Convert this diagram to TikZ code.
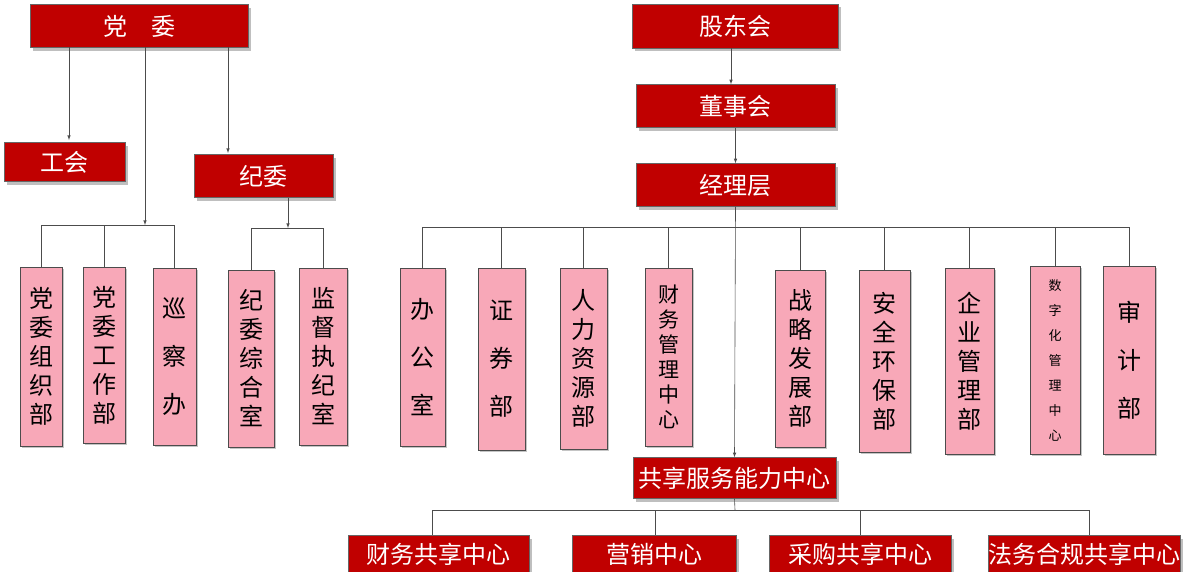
\documentclass[tikz,border=0pt]{standalone}
\usepackage{fontspec}
\setmainfont{Noto Sans CJK SC}
\usetikzlibrary{shadows}
\tikzset{
  redbox/.style={draw=black!60, fill={rgb,255:red,192;green,0;blue,0}, text=white,
    inner sep=0pt, font=\fontsize{24}{26}\selectfont,
    drop shadow={shadow xshift=3pt, shadow yshift=-3pt, fill=black!50}},
  pinkbox/.style={draw=black!70, fill={rgb,255:red,248;green,168;blue,184},
    inner sep=0pt, align=center,
    drop shadow={shadow xshift=2pt, shadow yshift=-2pt, fill=black!45}},
  vt/.style 2 args={font=\fontsize{#1}{#2}\selectfont},
  line/.style={draw=black!70, line width=0.6pt},
  arr/.style={line, -latex}
}
\begin{document}
\begin{tikzpicture}[x=1pt,y=-1pt]
  \useasboundingbox (0,0) rectangle (1186,571);
  %%% left: party side
  \node[redbox, minimum width=218pt, minimum height=43pt] (dangwei) at (139,26) {党\quad 委};
  \node[redbox, minimum width=121pt, minimum height=39pt] (gonghui) at (64.5,162) {工会};
  \node[redbox, minimum width=139pt, minimum height=43pt] (jiwei) at (263.5,176) {纪委};
  \node[pinkbox, vt={24}{29}, minimum width=42pt, minimum height=179pt] (zuzhi) at (41,356.5) {党\\委\\组\\织\\部};
  \node[pinkbox, vt={24}{29}, minimum width=42pt, minimum height=176pt] (gongzuo) at (104,355) {党\\委\\工\\作\\部};
  \node[pinkbox, vt={24}{48}, minimum width=43pt, minimum height=177pt] (xuncha) at (174.5,356.5) {巡\\察\\办};
  \node[pinkbox, vt={24}{29}, minimum width=46pt, minimum height=177pt] (zonghe) at (251,358.5) {纪\\委\\综\\合\\室};
  \node[pinkbox, vt={24}{29}, minimum width=48pt, minimum height=177pt] (jiandu) at (323,356.5) {监\\督\\执\\纪\\室};
  \coordinate (busA) at (145,225);
  \coordinate (busB) at (288,228);
  \draw[arr] (69,47) -- (69,140);
  \draw[arr] (228,47) -- (228,153);
  \draw[arr] (145,47) -- (busA);
  \draw[line] (zuzhi.north |- busA) -- (xuncha.north |- busA);
  \foreach \n in {zuzhi,gongzuo,xuncha}
    \draw[line] (\n.north |- busA) -- (\n.north);
  \draw[arr] (jiwei.south -| busB) -- (busB);
  \draw[line] (zonghe.north |- busB) -- (jiandu.north |- busB);
  \foreach \n in {zonghe,jiandu}
    \draw[line] (\n.north |- busB) -- (\n.north);
  %%% right: company side
  \node[redbox, minimum width=206pt, minimum height=44pt] (gudong) at (735,26) {股东会};
  \node[redbox, minimum width=199pt, minimum height=43pt] (dongshi) at (735.5,106) {董事会};
  \node[redbox, minimum width=199pt, minimum height=43pt] (jingli) at (735.5,185) {经理层};
  \draw[arr] (gudong.south -| 731,0) -- (dongshi.north -| 731,0);
  \draw[arr] (dongshi.south) -- (jingli.north);
  \node[pinkbox, vt={24}{48}, minimum width=45pt, minimum height=178pt] (bangong) at (422.5,357) {办\\公\\室};
  \node[pinkbox, vt={24}{48}, minimum width=47pt, minimum height=182pt] (zhengquan) at (501.5,359) {证\\券\\部};
  \node[pinkbox, vt={24}{29}, minimum width=47pt, minimum height=181pt] (renli) at (583.5,358.5) {人\\力\\资\\源\\部};
  \node[pinkbox, vt={21}{25}, minimum width=47pt, minimum height=178pt] (caiwu) at (668.5,357) {财\\务\\管\\理\\中\\心};
  \node[pinkbox, vt={24}{29}, minimum width=50pt, minimum height=177pt] (zhanlue) at (800,358.5) {战\\略\\发\\展\\部};
  \node[pinkbox, vt={24}{29}, minimum width=51pt, minimum height=182pt] (anquan) at (884.5,361) {安\\全\\环\\保\\部};
  \node[pinkbox, vt={24}{29}, minimum width=49pt, minimum height=186pt] (qiye) at (969.5,361) {企\\业\\管\\理\\部};
  \node[pinkbox, vt={13}{25}, minimum width=50pt, minimum height=188pt] (shuzi) at (1055,360) {数\\字\\化\\管\\理\\中\\心};
  \node[pinkbox, vt={24}{48}, minimum width=52pt, minimum height=188pt] (shenji) at (1129,360) {审\\计\\部};
  \coordinate (busC) at (735,227);
  \draw[line] (bangong.north |- busC) -- (shenji.north |- busC);
  \foreach \n in {bangong,zhengquan,renli,caiwu,zhanlue,anquan,qiye,shuzi,shenji}
    \draw[line] (\n.north |- busC) -- (\n.north);
  \node[redbox, minimum width=203pt, minimum height=41pt] (gongxiang) at (734.5,478) {共享服务能力中心};
  \draw[arr] (jingli.south) -- (gongxiang.north);
  %%% shared service centres
  \node[redbox, minimum width=181pt, minimum height=37pt] (cwgx) at (438.5,554) {财务共享中心};
  \node[redbox, minimum width=164pt, minimum height=37pt] (yingxiao) at (654,554) {营销中心};
  \node[redbox, minimum width=182pt, minimum height=37pt] (caigou) at (860,554) {采购共享中心};
  \node[redbox, minimum width=192pt, minimum height=37pt] (fawu) at (1084,554) {法务合规共享中心};
  \coordinate (busD) at (735,510);
  \draw[line] (gongxiang.south) -- (busD);
  \draw[line] (432,510) -- (1089,510);
  \foreach \n/\x in {cwgx/432,yingxiao/655,caigou/860,fawu/1089}
    \draw[line] (\x,510) -- (\n.north -| \x,0);
\end{tikzpicture}
\end{document}
